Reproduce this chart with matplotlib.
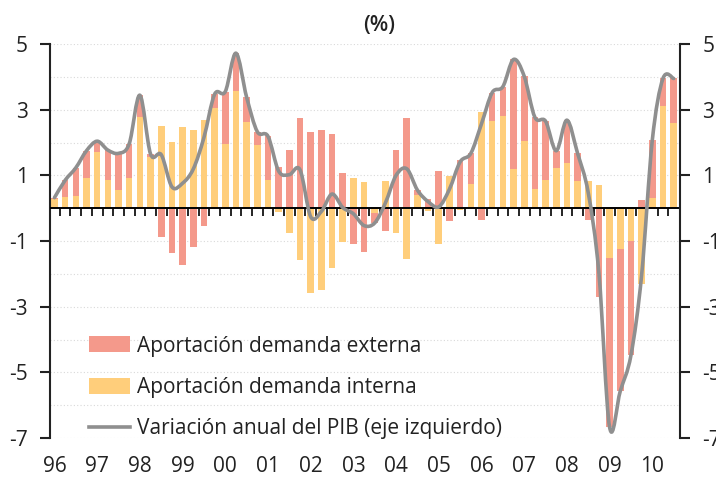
import matplotlib
matplotlib.use("Agg")
import numpy as np
import matplotlib.pyplot as plt
from matplotlib.path import Path
from matplotlib.patches import PathPatch, Patch
from matplotlib.lines import Line2D
from matplotlib.ticker import MultipleLocator

plt.rcParams["font.family"] = ["Open Sans", "DejaVu Sans"]

years = ["96", "97", "98", "99", "00", "01", "02", "03",
         "04", "05", "06", "07", "08", "09", "10"]

# aportaciones trimestrales (pp), 1996 T1 - 2010 T3
internal = [0.27, 0.33, 0.38, 0.92, 1.70, 0.85, 0.55, 0.92, 2.78, 1.56,
            2.50, 2.03, 2.48, 2.38, 2.70, 3.06, 1.95, 3.57, 2.62, 1.91,
            0.87, -0.13, -0.75, -1.57, -2.58, -2.48, -1.82, -1.04, 0.92, 0.80,
            -0.16, 0.84, -0.77, -1.55, 0.40, -0.09, -1.08, 0.98, -0.07, 0.75,
            2.94, 2.65, 2.80, 1.19, 2.05, 0.57, 0.85, 1.21, 1.39, 0.82,
            0.82, 0.72, -1.53, -1.23, -1.01, -2.30, 0.31, 3.11, 2.58]
external = [0.05, 0.52, 0.85, 0.83, 0.34, 0.92, 1.12, 1.04, 0.66, 0.09,
            -0.87, -1.38, -1.72, -1.19, -0.55, 0.41, 1.60, 1.15, 0.76, 0.42,
            1.32, 1.26, 1.77, 2.74, 2.32, 2.38, 2.25, 1.06, -1.09, -1.33,
            -0.29, -0.68, 1.77, 2.75, 0.15, 0.29, 1.12, -0.40, 1.48, 0.92,
            -0.37, 0.87, 0.90, 3.34, 1.97, 2.20, 1.80, 0.54, 1.29, 0.85,
            -0.35, -2.70, -5.14, -4.34, -3.47, 0.26, 1.76, 0.84, 1.37]
gdp = [0.32, 0.85, 1.23, 1.75, 2.04, 1.77, 1.67, 1.96, 3.44, 1.65,
       1.63, 0.65, 0.76, 1.19, 2.15, 3.47, 3.55, 4.72, 3.38, 2.33,
       2.19, 1.13, 1.02, 1.17, -0.26, -0.10, 0.43, 0.02, -0.17, -0.53,
       -0.45, 0.16, 1.00, 1.20, 0.55, 0.20, 0.04, 0.58, 1.41, 1.67,
       2.57, 3.52, 3.70, 4.53, 4.02, 2.77, 2.65, 1.75, 2.68, 1.67,
       0.47, -1.98, -6.67, -5.57, -4.48, -2.04, 2.07, 3.95, 3.95]

red = "#F4998B"
yellow = "#FFCE7B"
grey = "#8F8F8F"


def smooth_path(x, y):
    # curva suavizada tipo Excel (Catmull-Rom -> Bezier)
    pts = np.column_stack([x, y]).astype(float)
    verts = [pts[0]]
    codes = [Path.MOVETO]
    n = len(pts)
    for i in range(n - 1):
        p0 = pts[max(i - 1, 0)]
        p1 = pts[i]
        p2 = pts[i + 1]
        p3 = pts[min(i + 2, n - 1)]
        c1 = p1 + (p2 - p0) / 6.0
        c2 = p2 - (p3 - p1) / 6.0
        verts += [c1, c2, p2]
        codes += [Path.CURVE4] * 3
    return Path(verts, codes)


x = np.arange(len(internal))
internal_a = np.array(internal)
external_a = np.array(external)
ext_bottom = np.where(np.sign(internal_a) == np.sign(external_a), internal_a, 0)

fig = plt.figure(figsize=(7.16, 4.80), dpi=100)
ax = fig.add_axes([0.0698, 0.0875, 0.880, 0.8208])

ax.bar(x, internal_a, width=0.62, color=yellow, zorder=2)
ax.bar(x, external_a, bottom=ext_bottom, width=0.62, color=red, zorder=2)

ax.add_patch(PathPatch(smooth_path(x, gdp), facecolor="none", edgecolor=grey,
                       lw=2.6, zorder=4, capstyle="round", joinstyle="round"))

ax.axhline(0, color="black", lw=1.4, zorder=3)
ax.vlines(x[:-1] + 0.5, -0.24, 0, color="black", lw=1.2, zorder=3)

ax.set_xlim(-0.42, 58.6)
ax.set_ylim(-7, 5)
ax.set_yticks([5, 3, 1, -1, -3, -5, -7])
ax.set_yticklabels(["5", "3", "1", "-1", "-3", "-5", "-7"])
ax.yaxis.set_minor_locator(MultipleLocator(1))
ax.grid(which="both", axis="y", ls=(0, (1, 2)), color="#d9d9d9", lw=0.8, zorder=0)
ax.tick_params(axis="y", which="major", direction="out", length=7, width=1.5,
               pad=9, labelsize=15, colors="#222222")
ax.tick_params(axis="y", which="minor", length=0)

ax.set_xticks(x[::4])
ax.set_xticklabels(years)
ax.tick_params(axis="x", length=0, pad=13, labelsize=15, colors="#222222")

for s in ["top", "bottom"]:
    ax.spines[s].set_visible(False)
ax.spines["left"].set_linewidth(1.5)
ax.spines["left"].set_color("#222222")
ax.spines["right"].set_visible(False)

ax2 = ax.twinx()
ax2.set_ylim(-7, 5)
ax2.set_yticks([5, 3, 1, -1, -3, -5, -7])
ax2.set_yticklabels(["5", "3", "1", "-1", "-3", "-5", "-7"])
ax2.tick_params(axis="y", direction="out", length=7, width=1.5, pad=9,
                labelsize=15, colors="#222222")
for s in ["top", "bottom", "left"]:
    ax2.spines[s].set_visible(False)
ax2.spines["right"].set_linewidth(1.5)
ax2.spines["right"].set_color("#222222")

handles = [Patch(facecolor=red, edgecolor="none"),
           Patch(facecolor=yellow, edgecolor="none"),
           Line2D([], [], color=grey, lw=2.6)]
labels = ["Aportación demanda externa", "Aportación demanda interna",
          "Variación anual del PIB (eje izquierdo)"]
ax.legend(handles, labels, loc="lower left", bbox_to_anchor=(0.045, -0.03),
          frameon=False, fontsize=15, handlelength=2.0, handleheight=0.8,
          handletextpad=0.3, labelspacing=0.98, borderaxespad=0.1,
          labelcolor="#222222")

fig.text(0.53, 0.946, "(%)", ha="center", va="center", fontsize=15.5,
         fontweight="semibold", color="#222222")

fig.savefig("out.png", dpi=100)
